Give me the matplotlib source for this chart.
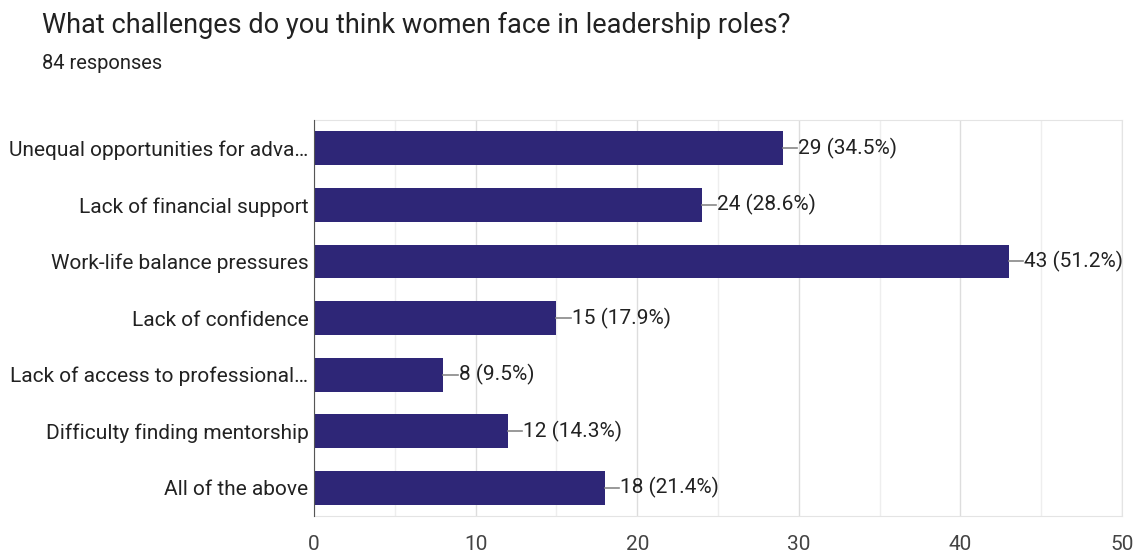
import matplotlib.pyplot as plt

plt.rcParams['font.family'] = ['Roboto', 'DejaVu Sans']

categories = ["Unequal opportunities for adva\u2026", "Lack of financial support",
              "Work-life balance pressures", "Lack of confidence",
              "Lack of access to professional\u2026", "Difficulty finding mentorship",
              "All of the above"]
counts = [29, 24, 43, 15, 8, 12, 18]
percents = [34.5, 28.6, 51.2, 17.9, 9.5, 14.3, 21.4]

fig = plt.figure(figsize=(11.36, 5.56), dpi=100)
ax = fig.add_axes([0.2764, 0.072, 0.7113, 0.712])

pos = list(range(len(categories)))
ax.barh(pos, counts, height=0.6, color="#2e2677", zorder=3)
for y, c, p in zip(pos, counts, percents):
    ax.plot([c, c + 0.9], [y, y], color="#888888", lw=1.2, zorder=3)
    ax.text(c + 0.95, y, f"{c} ({p}%)", va="center", ha="left",
            fontsize=15, color="#222222")

ax.set_xlim(0, 50)
ax.set_ylim(6.5, -0.5)
ax.set_yticks(pos)
ax.set_yticklabels(categories, fontsize=15, color="#222222")
ax.set_xticks(range(0, 51, 10))
ax.set_xticks(range(5, 50, 10), minor=True)
ax.tick_params(axis="x", which="both", length=0, labelsize=15, labelcolor="#444444", pad=14)
ax.tick_params(axis="y", length=0, pad=4)
ax.grid(axis="x", which="major", color="#dddddd", lw=1, zorder=0)
ax.grid(axis="x", which="minor", color="#eeeeee", lw=1, zorder=0)
for s in ["top", "right", "bottom"]:
    ax.spines[s].set_color("#e4e4e4")
ax.spines["left"].set_color("#555555")
ax.spines["left"].set_zorder(4)

fig.text(0.037, 0.955, "What challenges do you think women face in leadership roles?",
         fontsize=19.5, color="#222222", va="center")
fig.text(0.037, 0.885, "84 responses", fontsize=14.5, color="#222222", va="center")

fig.savefig("out.png", dpi=100)
